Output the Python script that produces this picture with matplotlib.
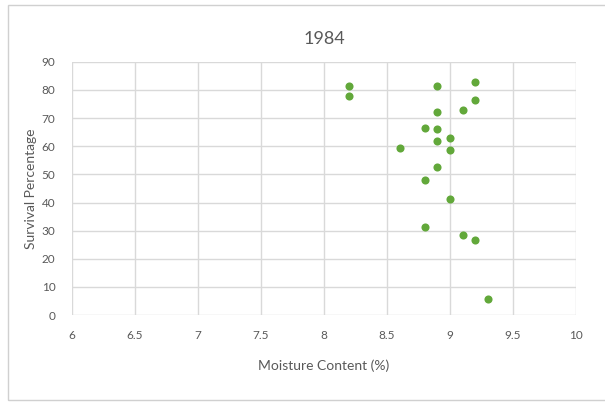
import matplotlib
matplotlib.use('Agg')
import matplotlib.pyplot as plt
from matplotlib.patches import Rectangle

plt.rcParams['font.family'] = ['Lato', 'DejaVu Sans']

# moisture content (%) and survival percentage per lot, 1984
moisture = [8.2, 8.2, 8.9, 9.2, 9.2, 9.1, 8.9, 8.8, 8.9, 9.0,
            8.9, 8.6, 9.0, 8.9, 8.8, 9.0, 8.8, 9.1, 9.2, 9.3]
survival = [81.5, 77.8, 81.5, 83.0, 76.5, 73.0, 72.0, 66.5, 66.3, 63.0,
            62.0, 59.2, 58.8, 52.8, 48.0, 41.2, 31.2, 28.5, 26.8, 5.7]
x_ticks = [6, 6.5, 7, 7.5, 8, 8.5, 9, 9.5, 10]
x_labels = ['6', '6.5', '7', '7.5', '8', '8.5', '9', '9.5', '10']
y_ticks = [0, 10, 20, 30, 40, 50, 60, 70, 80, 90]

text_col = '#595959'
grid_col = '#d9d9d9'

fig = plt.figure(figsize=(6.05, 4.04), dpi=100)
ax = fig.add_axes([0.119, 0.220, 0.833, 0.627])

# chart frame
fig.patches.append(Rectangle((8 / 605, 4 / 404), 1.0, 395 / 404,
                             transform=fig.transFigure, fill=False,
                             edgecolor='#d0d0d0', linewidth=1.0))

ax.scatter(moisture, survival, s=34, color='#62a83a', zorder=3, linewidths=0)

ax.set_xlim(6, 10)
ax.set_ylim(0, 90)
ax.set_xticks(x_ticks)
ax.set_xticklabels(x_labels)
ax.set_yticks(y_ticks)
ax.grid(True, color=grid_col, linewidth=1.0)
ax.set_axisbelow(True)
for s in ax.spines.values():
    s.set_visible(False)
ax.tick_params(length=0, labelsize=8.5, labelcolor=text_col, pad=11)
ax.tick_params(axis='y', pad=12)

ax.set_title('1984', fontsize=13, color=text_col, pad=13)
ax.set_xlabel('Moisture Content (%)', fontsize=10, color=text_col, labelpad=13)
ax.set_ylabel('Survival Percentage', fontsize=10, color=text_col, labelpad=3)

fig.savefig('out.png', dpi=100)
